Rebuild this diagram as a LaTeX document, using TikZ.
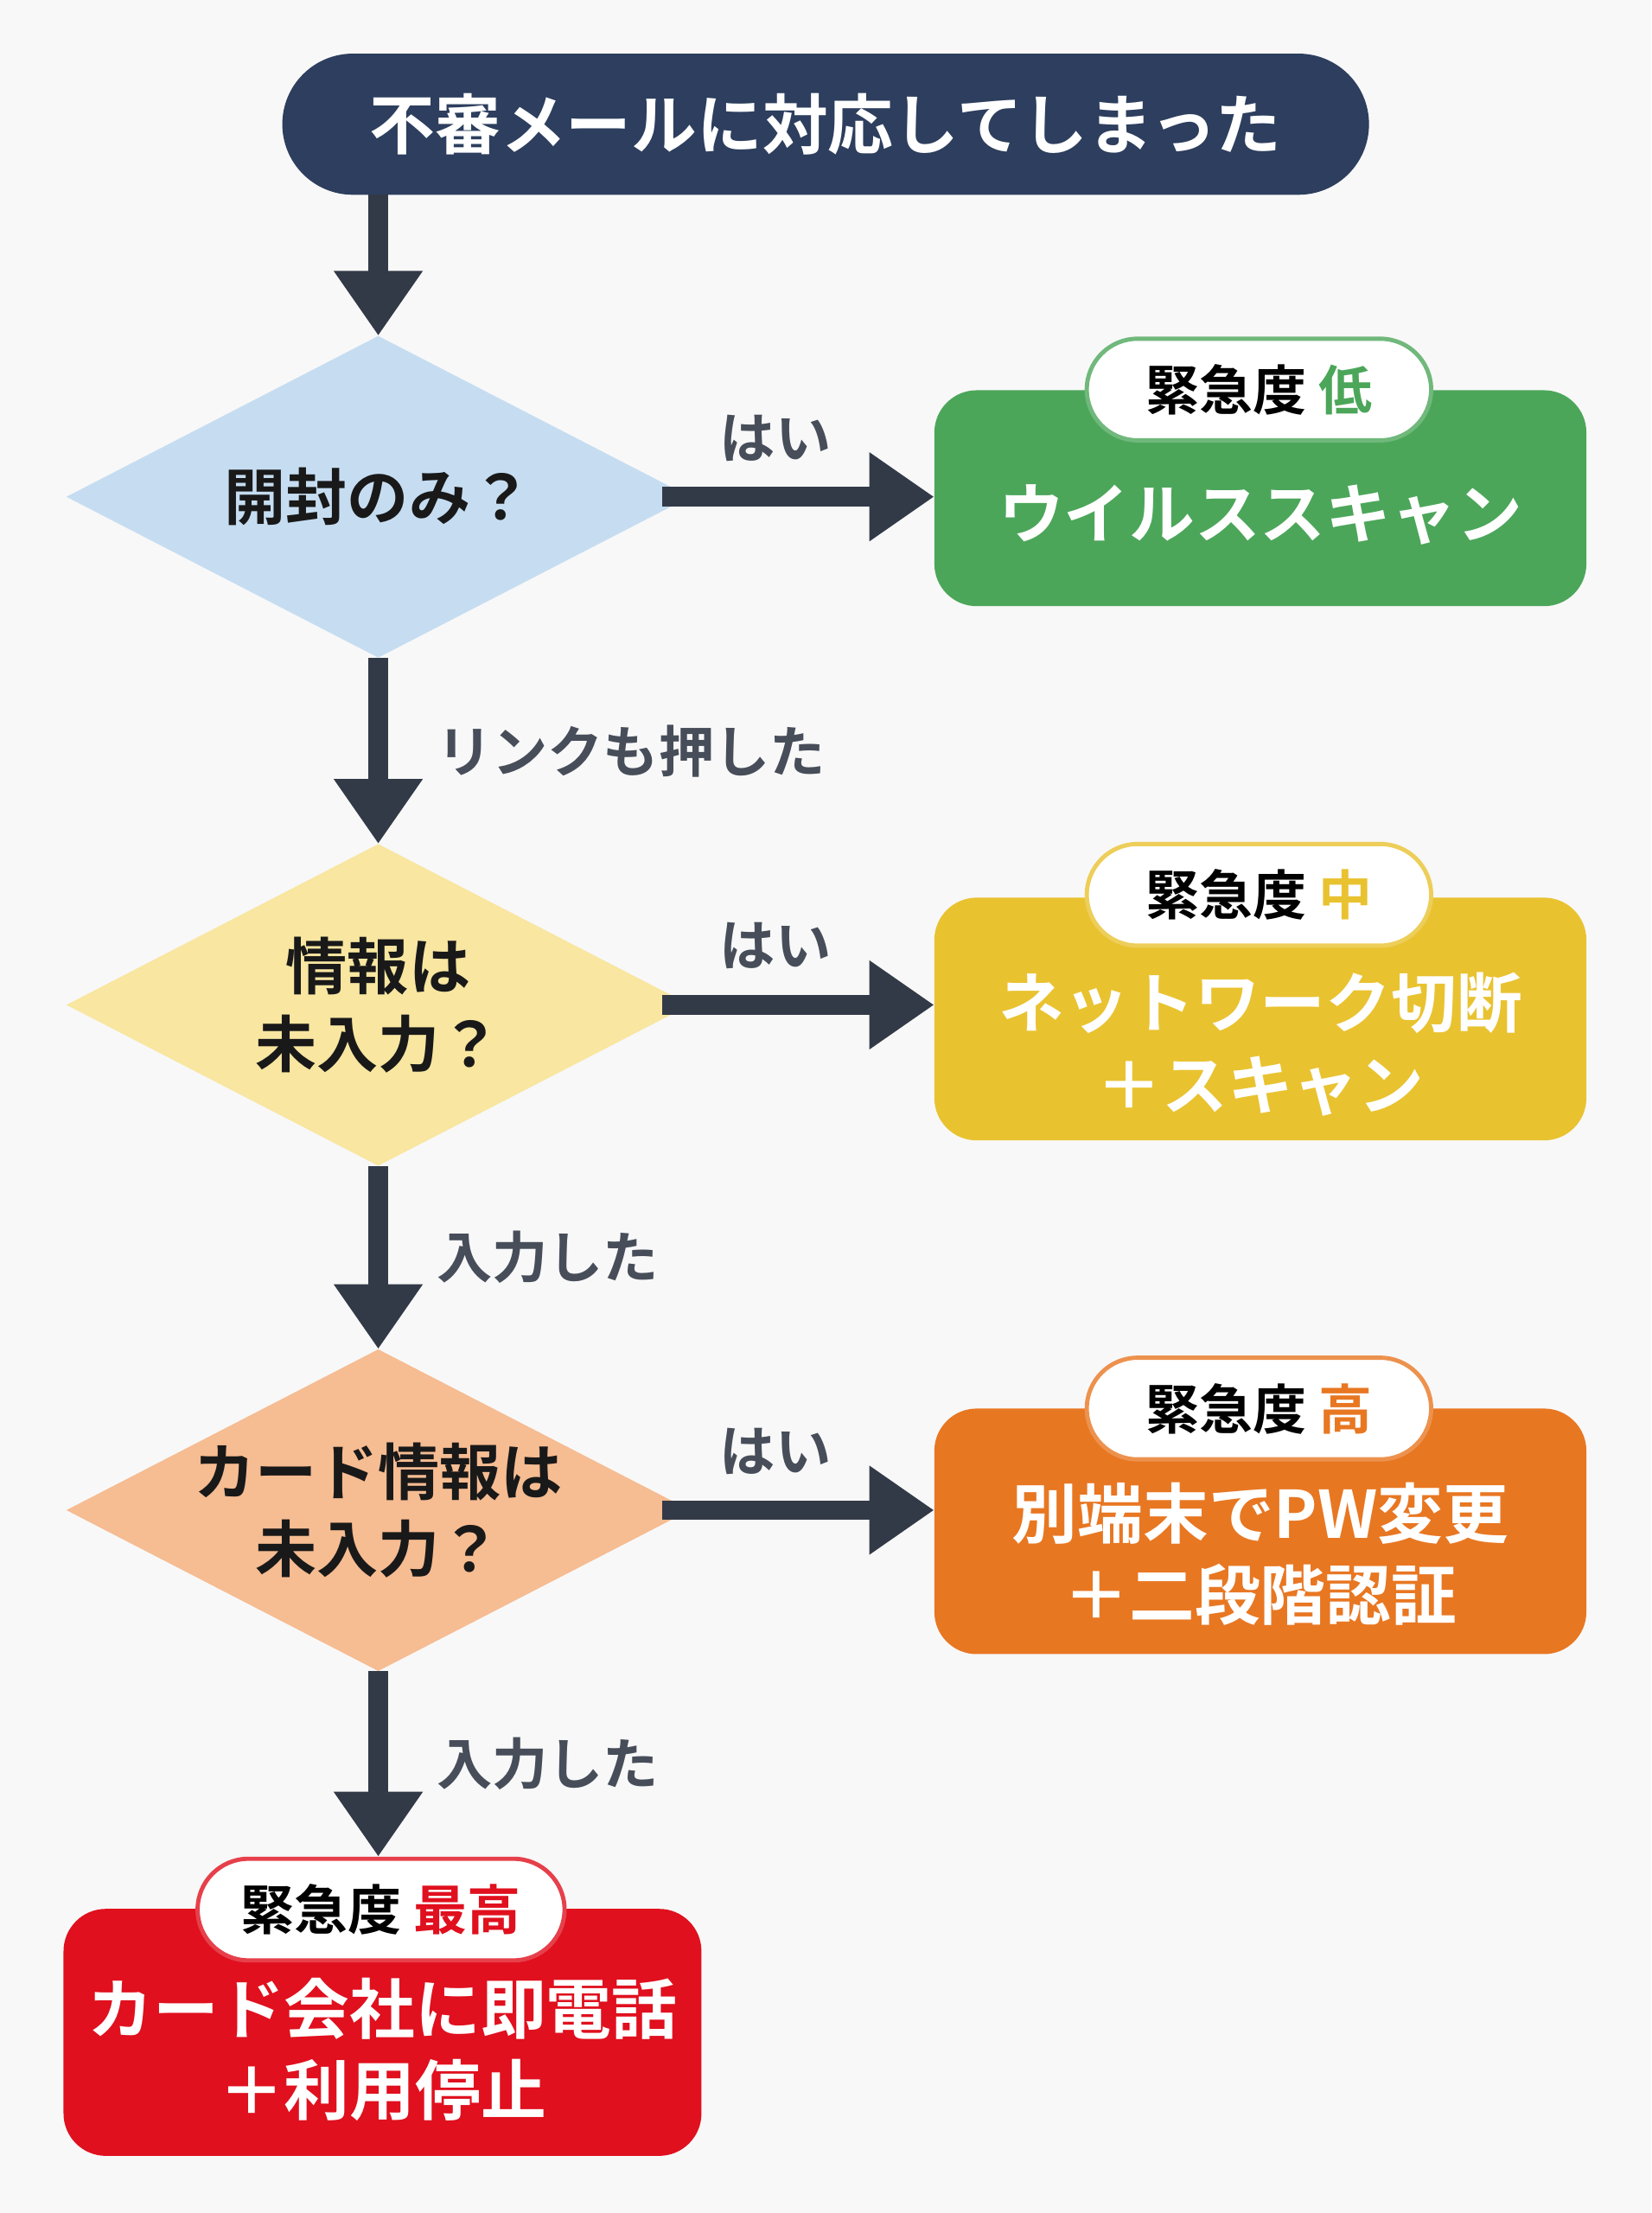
\documentclass[tikz,border=0pt]{standalone}
\usepackage{fontspec}
\setmainfont{Noto Sans CJK JP}[BoldFont={* Bold}]
\usetikzlibrary{arrows.meta,shapes.geometric,positioning}
\definecolor{navy}{HTML}{2D3E5E}
\definecolor{arrowc}{HTML}{333A47}
\definecolor{qblue}{HTML}{C6DDF1}
\definecolor{qyellow}{HTML}{F8E6A1}
\definecolor{qorange}{HTML}{F6BC92}
\definecolor{agreen}{HTML}{4CA65A}
\definecolor{ayellow}{HTML}{E9C230}
\definecolor{aorange}{HTML}{E87722}
\definecolor{ared}{HTML}{E0101E}
\definecolor{bgc}{HTML}{F8F8F8}
\begin{document}
\begin{tikzpicture}[x=0.05cm,y=-0.05cm,font=\bfseries,
  flow/.style={-{Triangle[length=2.3cm,width=3cm]},line width=0.7cm,draw=arrowc},
  question/.style={diamond,minimum width=22.1cm,minimum height=11.4cm,inner sep=0pt},
  qtext/.style={align=center,font=\fontsize{62}{78}\selectfont\bfseries,text=black!90},
  action/.style={rounded corners=1.5cm,minimum width=23.1cm},
  atext/.style={align=center,text=white,font=\fontsize{66}{82}\selectfont\bfseries},
  badge/.style={fill=white,rounded corners=1.8cm,line width=0.15cm,minimum width=12.2cm,
    minimum height=3.6cm,font=\fontsize{54}{60}\selectfont\bfseries},
  lbl/.style={font=\fontsize{56}{60}\selectfont\bfseries,text=arrowc!90}]
\fill[bgc] (0,0) rectangle (1170,1568);
\useasboundingbox (0,0) rectangle (1170,1568);

% start
\node[fill=navy,rounded corners=2.5cm,minimum width=38.5cm,minimum height=5cm,text=white,
  font=\fontsize{66}{70}\selectfont\bfseries] (start) at (585,88) {不審メールに対応してしまった};

% questions
\node[question,fill=qblue] (q1) at (268,352) {};
\node[qtext] at (q1) {開封のみ？};
\node[question,fill=qyellow] (q2) at (268,712) {};
\node[qtext] at (q2) {情報は\\未入力？};
\node[question,fill=qorange] (q3) at (268,1070) {};
\node[qtext] at (q3) {カード情報は\\未入力？};

% actions
\node[action,fill=agreen,minimum height=7.65cm] (a1) at (893,353) {};
\node[atext] at ([yshift=-0.6cm]a1) {ウイルススキャン};
\node[action,fill=ayellow,minimum height=8.6cm] (a2) at (893,722) {};
\node[atext] at ([yshift=-0.9cm]a2) {ネットワーク切断\\＋スキャン};
\node[action,fill=aorange,minimum height=8.7cm] (a3) at (893,1085) {};
\node[atext] at ([yshift=-0.8cm]a3) {別端末でPW変更\\＋二段階認証};
\node[action,fill=ared,minimum width=22.6cm,minimum height=8.75cm] (a4) at (271,1440) {};
\node[atext] at ([yshift=-0.6cm]a4) {カード会社に即電話\\＋利用停止};

% badges
\node[badge,draw=agreen!80] (b1) at (892,276) {緊急度 \textcolor{agreen}{低}};
\node[badge,draw=ayellow!80] (b2) at (892,634) {緊急度 \textcolor{ayellow}{中}};
\node[badge,draw=aorange!80] (b3) at (892,998) {緊急度 \textcolor{aorange}{高}};
\node[badge,draw=ared!80,minimum width=13cm] (b4) at (270,1353) {緊急度 \textcolor{ared}{最高}};

% connectors
\draw[flow] (268,138) -- (q1.north);
\draw[flow] (q1.south) -- node[lbl,right=1.6cm]{リンクも押した} (q2.north);
\draw[flow] (q2.south) -- node[lbl,right=1.6cm]{入力した} (q3.north);
\draw[flow] (q3.south) -- node[lbl,right=1.6cm]{入力した} (b4.north -| q3.south);
\draw[flow] ([xshift=-1cm]q1.east) -- node[lbl,above=0.8cm,xshift=-0.8cm]{はい} (a1.west |- q1);
\draw[flow] ([xshift=-1cm]q2.east) -- node[lbl,above=0.8cm,xshift=-0.8cm]{はい} (a2.west |- q2);
\draw[flow] ([xshift=-1cm]q3.east) -- node[lbl,above=0.8cm,xshift=-0.8cm]{はい} (a3.west |- q3);
\end{tikzpicture}
\end{document}
